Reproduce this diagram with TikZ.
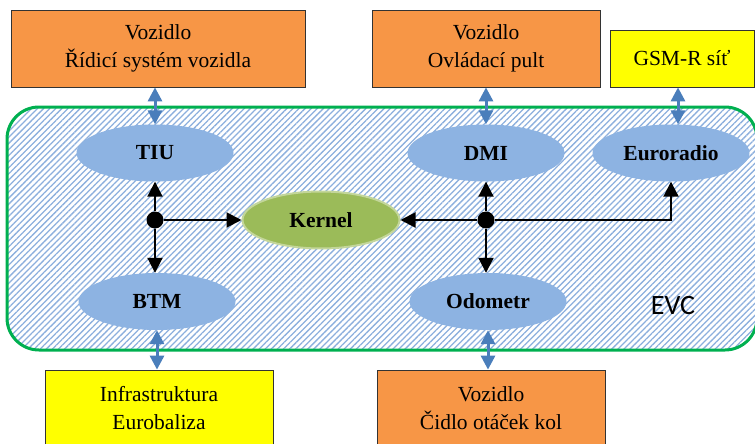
\documentclass[tikz,border=0pt]{standalone}
\usepackage{fontspec}
\setmainfont{Liberation Serif}
\newfontfamily\evcfont{Carlito}
\usetikzlibrary{arrows.meta,patterns.meta,shapes.geometric}
\definecolor{boxorange}{HTML}{F79646}
\definecolor{boxyellow}{HTML}{FFFF00}
\definecolor{ellblue}{HTML}{8DB3E2}
\definecolor{kernelgreen}{HTML}{9BBB59}
\definecolor{kernelrim}{HTML}{C3D69B}
\definecolor{evcgreen}{HTML}{00B050}
\definecolor{linkblue}{HTML}{4A7EBB}
\definecolor{hatchblue}{HTML}{8CAFDD}

\begin{document}
\begin{tikzpicture}[
	x=1pt, y=-1pt,
	unit/.style={draw=black!80, line width=0.8pt, minimum height=77pt, align=center, inner sep=0pt, font=\fontsize{21.5}{28}\selectfont},
	vehicle/.style={unit, fill=boxorange, minimum width=228pt},
	outside/.style={unit, fill=boxyellow, minimum width=228pt},
	module/.style={ellipse, fill=ellblue, minimum width=157pt, minimum height=57pt, inner sep=0pt, font=\fontsize{21.5}{24}\selectfont\bfseries},
	link/.style={linkblue, line width=3pt, {Triangle[length=14pt,width=14pt]}-{Triangle[length=14pt,width=14pt]}},
	flow/.style={black, line width=2pt, -{Triangle[length=15pt,width=15pt]}},
	junction/.style={circle, fill=black, inner sep=0pt, minimum size=17pt}
	]
	\useasboundingbox (0,0) rectangle (755,444);
	\clip (0,0) rectangle (755,444);
	
	% EVC area
	\draw[evcgreen, line width=3pt, rounded corners=32pt,
		pattern={Lines[angle=45,distance=4.3pt,line width=1.3pt]}, pattern color=hatchblue]
		(7,107) rectangle (757,350);
	\node[font=\evcfont\fontsize{28}{30}\selectfont] (evc) at (673,306) {EVC};
	
	% Outer units
	\node[vehicle, minimum width=294pt] (ridici) at (158,48.5) {Vozidlo\\Řídicí systém vozidla};
	\node[vehicle] (pult) at (486,48.5) {Vozidlo\\Ovládací pult};
	\node[outside, minimum width=144pt, minimum height=57pt] (gsm) at (682,58.5) {GSM-R síť};
	\node[outside] (balise) at (159,408.5) {Infrastruktura\\Eurobaliza};
	\node[vehicle] (cidlo) at (491,408.5) {Vozidlo\\Čidlo otáček kol};
	
	% EVC modules
	\node[module] (tiu) at (155,153) {TIU};
	\node[module] (dmi) at (486,153) {DMI};
	\node[module] (euro) at (671,153) {Euroradio};
	\node[module] (btm) at (157,301.5) {BTM};
	\node[module] (odo) at (488,301.5) {Odometr};
	\node[module, fill=kernelgreen, draw=kernelrim, line width=2pt] (kernel) at (321,220) {Kernel};
	
	% Junctions
	\node[junction] (jl) at (tiu |- kernel) {};
	\node[junction] (jr) at (dmi |- kernel) {};
	
	% Internal data flow
	\draw[flow] (jl) -- (tiu.south);
	\draw[flow] (jl) -- (jl |- btm.north);
	\draw[flow] (jl) -- (kernel.west);
	\draw[flow] (jr) -- (kernel.east);
	\draw[flow] (jr) -- (dmi.south);
	\draw[flow] (jr) -- (jr |- odo.north);
	\draw[flow] (jr) -| (euro.south);
	
	% Interfaces to the outside
	\draw[link] (tiu.north |- ridici.south) -- (tiu.north);
	\draw[link] (dmi.north |- pult.south) -- (dmi.north);
	\draw[link] ([xshift=-4pt]gsm.south) -- ([xshift=7pt]euro.north);
	\draw[link] (btm.south) -- (btm.south |- balise.north);
	\draw[link] (odo.south) -- (odo.south |- cidlo.north);
\end{tikzpicture}
\end{document}
